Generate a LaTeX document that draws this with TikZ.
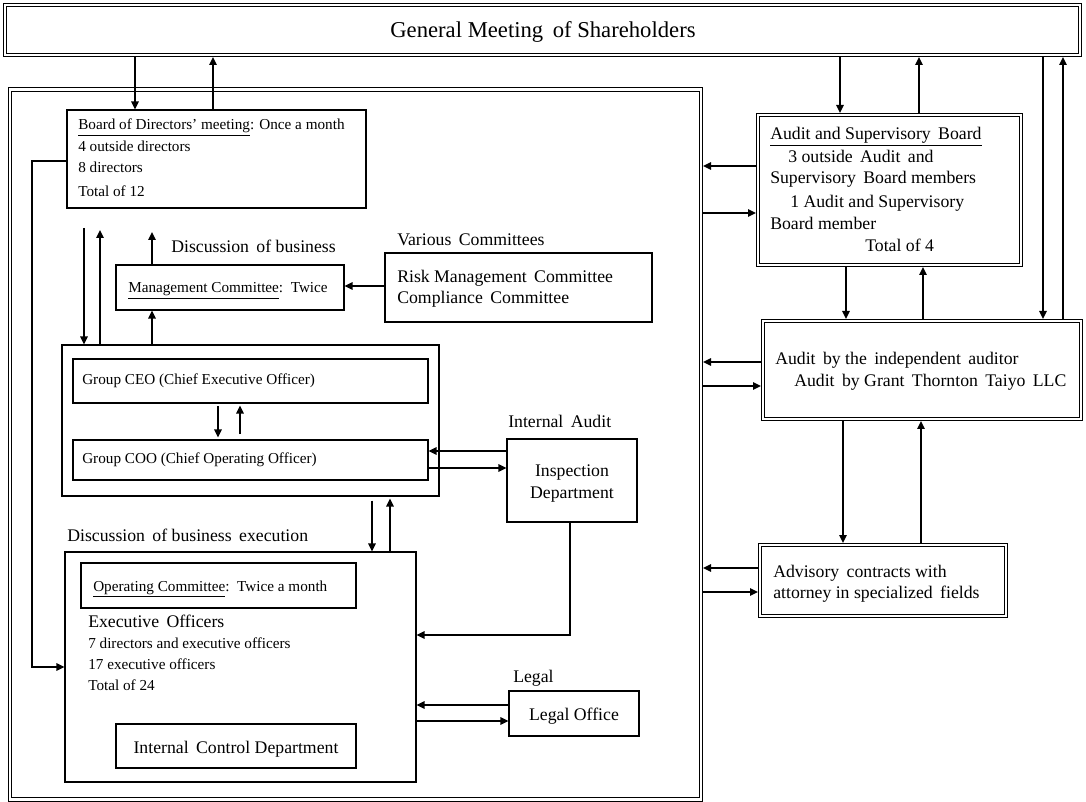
\documentclass[tikz,border=0pt]{standalone}
\usepackage{fontspec}
\setmainfont{Liberation Serif}
\usetikzlibrary{arrows.meta,fit}
\begin{document}
\begin{tikzpicture}[x=0.75pt,y=-0.75pt,
  bx/.style={draw,line width=0.8pt,inner sep=0pt},
  dbx/.style={draw,line width=0.75pt,double,double distance=1.6pt,inner sep=0pt,outer sep=1.5pt},
  arr/.style={line width=1.4pt,-{Triangle[length=6pt,width=5.5pt]}},
  big/.style={inner sep=0pt,font=\fontsize{13.3}{16}\selectfont},
  sml/.style={inner sep=0pt,font=\fontsize{11.4}{14}\selectfont},
  ttl/.style={inner sep=0pt,font=\fontsize{17}{20}\selectfont}]
\useasboundingbox (0,0) rectangle (1086,802);

% ---- boxes
\node[dbx,fit={(5,5) (1080,55)}] (sh) {};
\node[dbx,fit={(10,89.5) (701,799.5)}] (outer) {};
\node[bx,fit={(67,110) (366,208)}] (board) {};
\node[bx,fit={(116,265) (344,310)}] (mgmt) {};
\node[bx,fit={(385,253) (652,322)}] (var) {};
\node[bx,fit={(62,345) (439,496)}] (grp) {};
\node[bx,fit={(73,359) (428,403)}] (ceo) {};
\node[bx,fit={(73,440) (428,480)}] (coo) {};
\node[bx,fit={(507,439) (637,522)}] (insp) {};
\node[bx,fit={(65,552) (416,782)}] (exec) {};
\node[bx,fit={(81,563) (356,608)}] (opc) {};
\node[bx,fit={(116,724) (356,768)}] (icd) {};
\node[bx,fit={(509,691) (639,736)}] (legal) {};
\node[dbx,fit={(758,115) (1021,265)}] (aud) {};
\node[dbx,fit={(763,321) (1081,419)}] (ext) {};
\node[dbx,fit={(760,545) (1006,616)}] (adv) {};

% ---- texts
\node[ttl,anchor=base] (tsh) at (543,38) {General Meeting\, of Shareholders};
\node[sml,anchor=base west] (tb1) at (78,130) {\underline{Board of Directors’ meeting}: Once a month};
\node[sml,anchor=base west] (tb2) at (78,152) {4 outside directors};
\node[sml,anchor=base west] (tb3) at (78,173) {8 directors};
\node[sml,anchor=base west] (tb4) at (78,197) {Total of 12};
\node[big,anchor=base west] (tdisc) at (171,253) {Discussion\, of business};
\node[sml,anchor=base west] (tmg) at (128,293) {\underline{Management Committee}:\, Twice};
\node[big,anchor=base west] (tvar) at (397,246) {Various\, Committees};
\node[big,anchor=base west] (tv1) at (397,283) {Risk Management\, Committee};
\node[big,anchor=base west] (tv2) at (397,304) {Compliance\, Committee};
\node[sml,anchor=base west] (tceo) at (82,385) {Group CEO (Chief Executive Officer)};
\node[sml,anchor=base west] (tcoo) at (82,463) {Group COO (Chief Operating Officer)};
\node[big,anchor=base west] (tia) at (508,427) {Internal\, Audit};
\node[big,anchor=base] (ti1) at (572,476) {Inspection};
\node[big,anchor=base] (ti2) at (572,498) {Department};
\node[big,anchor=base west] (tdx) at (67,541) {Discussion\, of business\, execution};
\node[sml,anchor=base west] (topc) at (93,591) {\underline{Operating Committee}:\, Twice a month};
\node[big,anchor=base west] (teo) at (88,627) {Executive\, Officers};
\node[sml,anchor=base west] (te1) at (88,648) {7 directors and executive officers};
\node[sml,anchor=base west] (te2) at (88,669) {17 executive officers};
\node[sml,anchor=base west] (te3) at (88,690) {Total of 24};
\node[big,anchor=base] (ticd) at (236,753) {Internal\, Control Department};
\node[big,anchor=base west] (tlg) at (513,682) {Legal};
\node[big,anchor=base] (tlo) at (574,720) {Legal Office};
\node[big,anchor=base west] (ta1) at (770,140) {\underline{Audit and Supervisory\, Board}};
\node[big,anchor=base west] (ta2) at (788,163) {3 outside\, Audit\, and};
\node[big,anchor=base west] (ta3) at (770,184) {Supervisory\, Board members};
\node[big,anchor=base west] (ta4) at (790,208) {1 Audit and Supervisory};
\node[big,anchor=base west] (ta5) at (770,230) {Board member};
\node[big,anchor=base west] (ta6) at (865,252) {Total of 4};
\node[big,anchor=base west] (tx1) at (775,365) {Audit\, by the\, independent\, auditor};
\node[big,anchor=base west] (tx2) at (794,387) {Audit\, by Grant\, Thornton\, Taiyo\, LLC};
\node[big,anchor=base west] (tad1) at (773,577) {Advisory\, contracts with};
\node[big,anchor=base west] (tad2) at (773,598) {attorney in specialized\, fields};

% ---- helper positions
\coordinate (xA) at (135,0);  \coordinate (xB) at (213,0);
\coordinate (xC) at (840,0);  \coordinate (xD) at (919,0);
\coordinate (xE) at (1043,0); \coordinate (xF) at (1063,0);
\coordinate (xG) at (846,0);  \coordinate (xH) at (923,0);
\coordinate (xI) at (843,0);  \coordinate (xJ) at (921,0);
\coordinate (xM) at (152,0);
\coordinate (xN) at (218,0);  \coordinate (xO) at (240,0);
\coordinate (xP) at (372,0);  \coordinate (xQ) at (390,0);
\coordinate (xR) at (570,0);  \coordinate (xS) at (32,0);
\coordinate (gK) at (84,228); \coordinate (gL) at (100,230);
\coordinate (gM) at (152,232);
\coordinate (yA) at (0,166); \coordinate (yB) at (0,213);
\coordinate (yC) at (0,362); \coordinate (yD) at (0,386);
\coordinate (yE) at (0,568); \coordinate (yF) at (0,592);
\coordinate (yG) at (0,161); \coordinate (yH) at (0,667);
\coordinate (yI) at (0,286);
\coordinate (yJ) at (0,451); \coordinate (yK) at (0,468);
\coordinate (yL) at (0,635);
\coordinate (yM) at (0,705); \coordinate (yN) at (0,721);

% ---- connectors
\draw[arr] (sh.south -| xA) -- (board.north -| xA);
\draw[arr] (board.north -| xB) -- (sh.south -| xB);
\draw[arr] (sh.south -| xC) -- (aud.north -| xC);
\draw[arr] (aud.north -| xD) -- (sh.south -| xD);
\draw[arr] (sh.south -| xE) -- (ext.north -| xE);
\draw[arr] (ext.north -| xF) -- (sh.south -| xF);
\draw[arr] (aud.south -| xG) -- (ext.north -| xG);
\draw[arr] (ext.north -| xH) -- (aud.south -| xH);
\draw[arr] (ext.south -| xI) -- (adv.north -| xI);
\draw[arr] (adv.north -| xJ) -- (ext.south -| xJ);
\draw[arr] (aud.west |- yA) -- (outer.east |- yA);
\draw[arr] (outer.east |- yB) -- (aud.west |- yB);
\draw[arr] (ext.west |- yC) -- (outer.east |- yC);
\draw[arr] (outer.east |- yD) -- (ext.west |- yD);
\draw[arr] (adv.west |- yE) -- (outer.east |- yE);
\draw[arr] (outer.east |- yF) -- (adv.west |- yF);

\draw[arr] (board.west |- yG) -- (xS |- yG) -- (xS |- yH) -- (exec.west |- yH);
\draw[arr] (gK) -- (grp.north -| gK);
\draw[arr] (grp.north -| gL) -- (gL);
\draw[arr] (mgmt.north -| gM) -- (gM);
\draw[arr] (grp.north -| xM) -- (mgmt.south -| xM);
\draw[arr] (var.west |- yI) -- (mgmt.east |- yI);
\draw[arr,shorten <=2.2pt,shorten >=1.5pt] (ceo.south -| xN) -- (coo.north -| xN);
\draw[arr,shorten <=4pt,shorten >=1.5pt] (coo.north -| xO) -- (ceo.south -| xO);
\draw[arr] (insp.west |- yJ) -- (coo.east |- yJ);
\draw[arr] (coo.east |- yK) -- (insp.west |- yK);
\draw[arr,shorten <=3pt] (grp.south -| xP) -- (exec.north -| xP);
\draw[arr,shorten >=1.5pt] (exec.north -| xQ) -- (grp.south -| xQ);
\draw[arr] (insp.south -| xR) -- (xR |- yL) -- (exec.east |- yL);
\draw[arr] (legal.west |- yM) -- (exec.east |- yM);
\draw[arr] (exec.east |- yN) -- (legal.west |- yN);
\end{tikzpicture}
\end{document}
